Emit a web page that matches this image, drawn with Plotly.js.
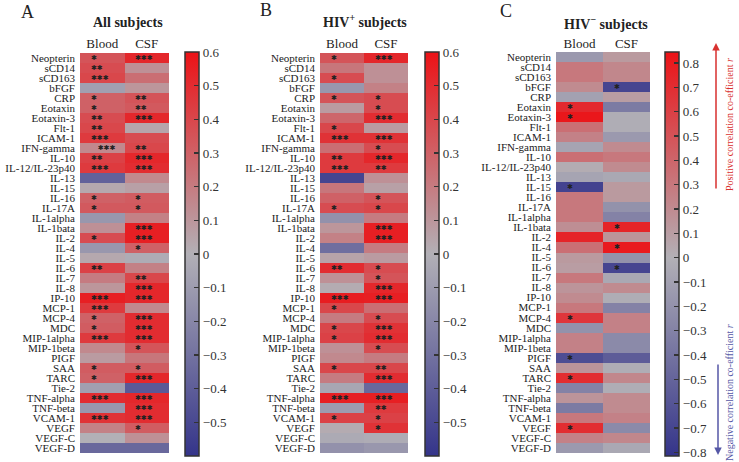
<!DOCTYPE html>
<html>
<head>
<meta charset="utf-8">
<script src="https://cdn.plot.ly/plotly-3.0.1.min.js"></script>
<style>
  html, body { margin: 0; padding: 0; background: #fff; }
  #plot { width: 739px; height: 462px; }
</style>
</head>
<body>
<div id="plot"></div>
<script>
var markers = ['Neopterin', 'sCD14', 'sCD163', 'bFGF', 'CRP', 'Eotaxin', 'Eotaxin-3', 'Flt-1', 'ICAM-1',
  'IFN-gamma', 'IL-10', 'IL-12/IL-23p40', 'IL-13', 'IL-15', 'IL-16', 'IL-17A', 'IL-1alpha', 'IL-1bata',
  'IL-2', 'IL-4', 'IL-5', 'IL-6', 'IL-7', 'IL-8', 'IP-10', 'MCP-1', 'MCP-4', 'MDC', 'MIP-1alpha',
  'MIP-1beta', 'PIGF', 'SAA', 'TARC', 'Tie-2', 'TNF-alpha', 'TNF-beta', 'VCAM-1', 'VEGF', 'VEGF-C', 'VEGF-D'];
var columns = ['Blood', 'CSF'];

// A: all subjects
var allBlood = [0.35, 0.38, 0.40, -0.08, 0.30, 0.30, 0.38, 0.40, 0.45, 0.15, 0.42, 0.45, -0.38, 0.03,
  0.30, 0.33, -0.12, 0.12, 0.38, -0.12, 0.03, 0.42, 0.20, 0.10, 0.55, 0.45, 0.30, 0.32, 0.45, 0.15,
  0.08, 0.32, 0.30, -0.08, 0.50, -0.12, 0.48, 0.18, 0.0, -0.35];
var allCsf = [0.52, 0.12, 0.25, 0.10, 0.35, 0.33, 0.52, 0.04, 0.38, 0.40, 0.52, 0.50, 0.15, 0.06,
  0.32, 0.33, 0.18, 0.55, 0.55, 0.30, -0.02, 0.18, 0.40, 0.52, 0.52, 0.15, 0.50, 0.50, 0.50, 0.35,
  0.22, 0.32, 0.52, -0.42, 0.52, 0.50, 0.50, 0.32, 0.12, -0.35];
var allBloodSig = ['*', '**', '***', '', '*', '*', '**', '**', '***', '\u00a0\u00a0\u00a0***', '**', '***', '', '',
  '*', '*', '', '', '*', '', '', '**', '', '', '***', '***', '*', '*', '***', '',
  '', '*', '*', '', '***', '', '***', '', '', ''];
var allCsfSig = ['***', '', '', '', '**', '**', '***', '', '', '**', '***', '***', '', '',
  '*', '*', '', '***', '***', '*', '', '', '**', '***', '***', '', '***', '***', '***', '*',
  '', '*', '***', '', '***', '***', '***', '*', '', ''];

// B: HIV+ subjects
var posBlood = [0.35, 0.22, 0.38, -0.12, 0.35, 0.08, 0.28, 0.40, 0.48, 0.25, 0.45, 0.45, -0.52, 0.22,
  0.30, 0.38, -0.15, 0.10, 0.18, -0.32, 0.05, 0.50, 0.12, 0.02, 0.56, 0.40, 0.20, 0.40, 0.42, 0.12,
  0.15, 0.40, 0.20, -0.05, 0.55, -0.10, 0.42, 0.02, -0.03, -0.15];
var posCsf = [0.52, 0.12, 0.12, 0.18, 0.38, 0.38, 0.50, 0.08, 0.48, 0.38, 0.52, 0.45, 0.12, 0.06,
  0.35, 0.40, 0.20, 0.55, 0.55, 0.20, 0.08, 0.38, 0.35, 0.52, 0.55, 0.25, 0.38, 0.48, 0.50, 0.38,
  0.20, 0.40, 0.50, -0.35, 0.55, 0.45, 0.42, 0.48, -0.02, -0.12];
var posBloodSig = ['*', '', '*', '', '*', '', '', '*', '***', '', '**', '***', '', '',
  '', '*', '', '', '', '', '', '**', '', '', '***', '*', '', '*', '*', '',
  '', '*', '', '', '***', '', '*', '', '', ''];
var posCsfSig = ['***', '', '', '', '*', '*', '***', '', '***', '*', '***', '**', '', '',
  '*', '*', '', '***', '***', '', '', '*', '*', '***', '***', '', '*', '***', '***', '*',
  '', '**', '***', '', '***', '**', '*', '*', '', ''];

// C: HIV- subjects
var negBlood = [-0.15, 0.30, 0.30, 0.20, -0.10, 0.72, 0.82, 0.35, 0.25, -0.08, 0.35, 0.02, -0.08, -0.72,
  0.30, 0.30, 0.30, 0.18, 0.75, 0.35, 0.12, 0.10, 0.30, 0.15, 0.20, 0.30, 0.65, -0.20, 0.25, 0.25,
  -0.65, 0.15, 0.70, -0.30, 0.15, -0.35, 0.30, 0.70, 0.25, -0.15];
var negCsf = [0.12, 0.22, 0.22, -0.70, 0.10, -0.35, -0.02, -0.02, -0.15, 0.20, 0.30, 0.20, -0.05, 0.12,
  0.12, -0.20, -0.30, 0.75, 0.15, 0.80, -0.20, -0.70, -0.05, 0.20, -0.02, -0.30, 0.25, 0.25, -0.25, -0.25,
  -0.55, -0.02, 0.22, -0.02, 0.20, 0.20, 0.25, -0.25, 0.22, -0.05];
var negBloodSig = ['', '', '', '', '', '*', '*', '', '', '', '', '', '', '*',
  '', '', '', '', '', '', '', '', '', '', '', '', '*', '', '', '',
  '*', '', '*', '', '', '', '', '*', '', ''];
var negCsfSig = ['', '', '', '*', '', '', '', '', '', '', '', '', '', '',
  '', '', '', '*', '', '*', '', '*', '', '', '', '', '', '', '', '',
  '', '', '', '', '', '', '', '', '', ''];

var W = 739, H = 462;
function px(x) { return x / W; }
function py(y) { return 1 - y / H; }

var serif = 'Liberation Serif, Times New Roman, serif';
var blue = 'rgb(52,52,138)', grey = 'rgb(178,176,182)', red = 'rgb(236,18,22)';

function scale(zmin, zmax) {
  var mid = (0 - zmin) / (zmax - zmin);
  return [[0, blue], [mid, grey], [1, red]];
}

function rows(a, b) {
  return a.map(function (v, i) { return [v, b[i]]; });
}

var panels = [
  {blood: allBlood, csf: allCsf, sb: allBloodSig, sc: allCsfSig, zmin: -0.6, zmax: 0.6,
   dom: [80, 169], cb: 185, letter: 'A', lx: 27, ly: 12, title: '<b>All subjects</b>', tx: 128, ty: 22},
  {blood: posBlood, csf: posCsf, sb: posBloodSig, sc: posCsfSig, zmin: -0.6, zmax: 0.6,
   dom: [320, 408], cb: 425, letter: 'B', lx: 266, ly: 10, title: '<b>HIV<sup>+</sup> subjects</b>', tx: 365, ty: 21},
  {blood: negBlood, csf: negCsf, sb: negBloodSig, sc: negCsfSig, zmin: -0.815, zmax: 0.845,
   dom: [556, 650], cb: 665, letter: 'C', lx: 506, ly: 11, title: '<b>HIV<sup>\u2212</sup> subjects</b>', tx: 606, ty: 23}
];

var data = [];
var annotations = [];
var layout = {
  width: W, height: H,
  margin: {l: 0, r: 0, t: 0, b: 0},
  paper_bgcolor: '#fff', plot_bgcolor: '#fff',
  font: {family: serif, color: '#222'},
  showlegend: false
};

panels.forEach(function (p, k) {
  var sfx = k === 0 ? '' : String(k + 1);
  data.push({
    type: 'heatmap',
    x: columns, y: markers,
    z: rows(p.blood, p.csf),
    xaxis: 'x' + sfx, yaxis: 'y' + sfx,
    zmin: p.zmin, zmax: p.zmax,
    colorscale: scale(p.zmin, p.zmax),
    hoverinfo: 'skip',
    colorbar: {
      x: px(p.cb), xanchor: 'left', xpad: 0,
      y: py(52), yanchor: 'top', ypad: 0,
      len: 404 / H, lenmode: 'fraction',
      thickness: 14, thicknessmode: 'pixels',
      outlinewidth: 1.5, outlinecolor: '#333',
      tickmode: 'linear', tick0: 0, dtick: 0.1,
      ticks: 'inside', ticklen: 5, tickwidth: 1.5, tickcolor: '#333',
      tickfont: {family: serif, size: 13, color: '#333'}
    }
  });
  layout['xaxis' + sfx] = {
    domain: [px(p.dom[0]), px(p.dom[1])],
    anchor: 'y' + sfx, side: 'top',
    showgrid: false, zeroline: false, showline: false, ticks: '',
    tickfont: {family: serif, size: 13, color: '#222'},
    fixedrange: true
  };
  layout['yaxis' + sfx] = {
    domain: [py(453), py(52)],
    anchor: 'x' + sfx, autorange: 'reversed',
    tickmode: 'array', tickvals: markers, ticktext: markers,
    showgrid: false, zeroline: false, showline: false, ticks: '',
    ticklabelstandoff: 4,
    tickfont: {family: serif, size: 11, color: '#222'},
    fixedrange: true
  };
  [p.sb, p.sc].forEach(function (sig, c) {
    sig.forEach(function (s, i) {
      if (!s) return;
      annotations.push({
        xref: 'x' + sfx, yref: 'y' + sfx,
        x: c - 0.3, y: markers[i], xanchor: 'left', yanchor: 'middle',
        text: s.replace(/\*/g, '\u2731'), showarrow: false,
        font: {family: 'DejaVu Sans', size: 7, color: '#222'}
      });
    });
  });
  annotations.push({xref: 'paper', yref: 'paper', x: px(p.lx), y: py(p.ly), text: p.letter,
    xanchor: 'center', yanchor: 'middle',
    showarrow: false, font: {family: serif, size: 18, color: '#222'}});
  annotations.push({xref: 'paper', yref: 'paper', x: px(p.tx), y: py(p.ty), text: p.title,
    xanchor: 'center', yanchor: 'middle',
    showarrow: false, font: {family: serif, size: 14, color: '#222'}});
});

// direction arrows on the right
annotations.push({xref: 'paper', yref: 'paper', x: px(716), y: py(43), ax: 0, ay: 147,
  text: '', showarrow: true, arrowhead: 2, arrowsize: 1, arrowwidth: 1.5, arrowcolor: '#d8312f'});
annotations.push({xref: 'paper', yref: 'paper', x: px(718), y: py(455), ax: 0, ay: -92,
  text: '', showarrow: true, arrowhead: 2, arrowsize: 1, arrowwidth: 1.5, arrowcolor: '#5557a6'});
annotations.push({xref: 'paper', yref: 'paper', x: px(729), y: py(125), textangle: -90,
  xanchor: 'center', yanchor: 'middle',
  text: 'Positive correlation co-efficient <i>r</i>', showarrow: false,
  font: {family: serif, size: 10, color: '#d8312f'}});
annotations.push({xref: 'paper', yref: 'paper', x: px(729), y: py(393), textangle: -90,
  xanchor: 'center', yanchor: 'middle',
  text: 'Negative correlation co-efficient <i>r</i>', showarrow: false,
  font: {family: serif, size: 10, color: '#5557a6'}});

layout.annotations = annotations;

Plotly.newPlot('plot', data, layout, {staticPlot: true});
</script>
</body>
</html>
